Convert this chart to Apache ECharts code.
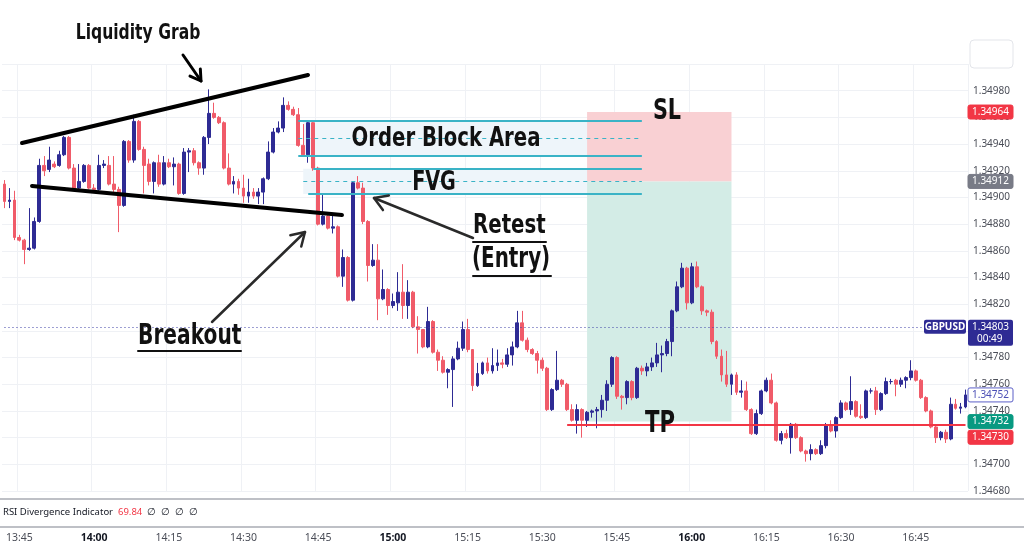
<!DOCTYPE html>
<html>
<head>
<meta charset="utf-8">
<script src="https://cdn.jsdelivr.net/npm/echarts@6/dist/echarts.min.js"></script>
<style>
  html, body { margin: 0; padding: 0; background: #fff; }
  #chart { width: 1024px; height: 559px; }
</style>
</head>
<body>
<div id="chart"></div>
<script>
// GBPUSD 1 min candles, first one at 13:42
var opens = [
  1.34910,1.34897,1.34898,1.34870,1.34868,1.34861,1.34862,1.34882,1.34924,1.34921,
  1.34925,1.34924,1.34932,1.34945,1.34922,1.34907,1.34912,1.34924,1.34907,1.34906,
  1.34924,1.34924,1.34910,1.34906,1.34894,1.34942,1.34928,1.34957,1.34936,1.34925,
  1.34912,1.34926,1.34910,1.34926,1.34923,1.34925,1.34903,1.34934,1.34935,1.34926,
  1.34922,1.34945,1.34963,1.34960,1.34956,1.34922,1.34910,1.34912,1.34907,1.34901,
  1.34904,1.34901,1.34904,1.34914,1.34934,1.34949,1.34952,1.34969,1.34966,1.34962,
  1.34939,1.34932,1.34956,1.34922,1.34880,1.34886,1.34877,1.34878,1.34841,1.34855,
  1.34823,1.34911,1.34907,1.34882,1.34849,1.34853,1.34824,1.34831,1.34819,1.34821,
  1.34829,1.34819,1.34829,1.34803,1.34801,1.34788,1.34807,1.34784,1.34778,1.34769,
  1.34771,1.34779,1.34787,1.34801,1.34786,1.34759,1.34768,1.34776,1.34770,1.34774,
  1.34776,1.34775,1.34782,1.34788,1.34806,1.34793,1.34786,1.34783,1.34778,1.34772,
  1.34741,1.34756,1.34763,1.34760,1.34741,1.34733,1.34741,1.34733,1.34739,1.34740,
  1.34741,1.34748,1.34760,1.34780,1.34751,1.34750,1.34762,1.34750,1.34772,1.34770,
  1.34773,1.34776,1.34782,1.34783,1.34792,1.34815,1.34833,1.34847,1.34821,1.34848,
  1.34833,1.34815,1.34814,1.34792,1.34781,1.34767,1.34760,1.34767,1.34754,1.34755,
  1.34741,1.34723,1.34738,1.34755,1.34763,1.34746,1.34718,1.34723,1.34720,1.34730,
  1.34720,1.34710,1.34708,1.34711,1.34708,1.34714,1.34729,1.34725,1.34735,1.34746,
  1.34741,1.34747,1.34736,1.34735,1.34755,1.34755,1.34741,1.34753,1.34762,1.34763,
  1.34760,1.34763,1.34765,1.34770,1.34763,1.34750,1.34740,1.34728,1.34720,1.34724,
  1.34719,1.34745,1.34742,1.34743
];
var closes = [
  1.34897,1.34898,1.34870,1.34868,1.34861,1.34862,1.34882,1.34924,1.34920,1.34928,
  1.34923,1.34932,1.34945,1.34922,1.34907,1.34912,1.34924,1.34907,1.34906,1.34924,
  1.34925,1.34910,1.34906,1.34894,1.34942,1.34928,1.34957,1.34936,1.34924,1.34912,
  1.34926,1.34910,1.34926,1.34923,1.34925,1.34903,1.34934,1.34935,1.34926,1.34922,
  1.34945,1.34963,1.34960,1.34956,1.34922,1.34910,1.34912,1.34907,1.34901,1.34904,
  1.34901,1.34904,1.34914,1.34934,1.34949,1.34952,1.34969,1.34966,1.34962,1.34939,
  1.34932,1.34956,1.34922,1.34880,1.34886,1.34877,1.34878,1.34841,1.34855,1.34823,
  1.34911,1.34907,1.34882,1.34849,1.34853,1.34824,1.34831,1.34819,1.34822,1.34829,
  1.34819,1.34829,1.34803,1.34801,1.34788,1.34807,1.34784,1.34778,1.34769,1.34771,
  1.34779,1.34787,1.34801,1.34786,1.34759,1.34768,1.34776,1.34770,1.34774,1.34776,
  1.34775,1.34782,1.34788,1.34806,1.34793,1.34786,1.34783,1.34778,1.34772,1.34741,
  1.34756,1.34763,1.34760,1.34741,1.34733,1.34741,1.34733,1.34739,1.34740,1.34741,
  1.34748,1.34760,1.34780,1.34751,1.34750,1.34762,1.34750,1.34772,1.34770,1.34773,
  1.34776,1.34782,1.34783,1.34792,1.34815,1.34833,1.34847,1.34821,1.34848,1.34833,
  1.34815,1.34814,1.34792,1.34781,1.34767,1.34760,1.34767,1.34754,1.34755,1.34741,
  1.34723,1.34738,1.34755,1.34763,1.34746,1.34718,1.34723,1.34720,1.34730,1.34720,
  1.34710,1.34708,1.34711,1.34708,1.34714,1.34729,1.34725,1.34735,1.34746,1.34741,
  1.34747,1.34736,1.34735,1.34755,1.34755,1.34741,1.34753,1.34762,1.34762,1.34760,
  1.34763,1.34765,1.34770,1.34763,1.34750,1.34740,1.34728,1.34720,1.34724,1.34719,
  1.34745,1.34742,1.34743,1.34752
];
var lows = [
  1.34892,1.34892,1.34868,1.34867,1.34850,1.34860,1.34861,1.34881,1.34916,1.34919,
  1.34922,1.34923,1.34931,1.34921,1.34906,1.34906,1.34911,1.34906,1.34904,1.34905,
  1.34922,1.34909,1.34904,1.34874,1.34893,1.34926,1.34926,1.34935,1.34903,1.34909,
  1.34903,1.34908,1.34909,1.34922,1.34909,1.34902,1.34902,1.34919,1.34924,1.34917,
  1.34917,1.34940,1.34959,1.34955,1.34921,1.34909,1.34903,1.34902,1.34896,1.34896,
  1.34899,1.34895,1.34895,1.34913,1.34933,1.34948,1.34949,1.34965,1.34961,1.34938,
  1.34931,1.34926,1.34920,1.34879,1.34879,1.34876,1.34873,1.34840,1.34833,1.34822,
  1.34822,1.34906,1.34880,1.34837,1.34848,1.34808,1.34823,1.34812,1.34817,1.34815,
  1.34809,1.34809,1.34802,1.34783,1.34787,1.34787,1.34783,1.34770,1.34768,1.34757,
  1.34743,1.34778,1.34785,1.34784,1.34755,1.34758,1.34767,1.34768,1.34768,1.34770,
  1.34772,1.34773,1.34774,1.34787,1.34792,1.34784,1.34782,1.34768,1.34770,1.34740,
  1.34740,1.34755,1.34758,1.34740,1.34732,1.34723,1.34720,1.34728,1.34735,1.34727,
  1.34735,1.34740,1.34758,1.34749,1.34741,1.34745,1.34748,1.34749,1.34767,1.34766,
  1.34770,1.34773,1.34769,1.34781,1.34781,1.34814,1.34832,1.34816,1.34820,1.34832,
  1.34812,1.34811,1.34790,1.34779,1.34762,1.34758,1.34752,1.34752,1.34750,1.34740,
  1.34722,1.34722,1.34737,1.34754,1.34745,1.34717,1.34715,1.34719,1.34708,1.34719,
  1.34709,1.34702,1.34703,1.34707,1.34707,1.34712,1.34724,1.34720,1.34734,1.34740,
  1.34737,1.34735,1.34734,1.34734,1.34753,1.34737,1.34740,1.34752,1.34760,1.34751,
  1.34758,1.34757,1.34763,1.34762,1.34749,1.34739,1.34727,1.34716,1.34718,1.34716,
  1.34718,1.34741,1.34738,1.34742
];
var highs = [
  1.34913,1.34907,1.34905,1.34872,1.34869,1.34892,1.34885,1.34929,1.34931,1.34938,
  1.34927,1.34935,1.34946,1.34946,1.34925,1.34925,1.34925,1.34925,1.34910,1.34932,
  1.34928,1.34931,1.34931,1.34908,1.34943,1.34943,1.34962,1.34958,1.34938,1.34929,
  1.34927,1.34932,1.34931,1.34929,1.34930,1.34926,1.34937,1.34937,1.34937,1.34927,
  1.34946,1.34981,1.34971,1.34961,1.34957,1.34933,1.34916,1.34914,1.34917,1.34914,
  1.34907,1.34907,1.34915,1.34942,1.34952,1.34957,1.34975,1.34972,1.34968,1.34967,
  1.34955,1.34958,1.34957,1.34923,1.34903,1.34887,1.34887,1.34879,1.34861,1.34856,
  1.34912,1.34916,1.34911,1.34883,1.34865,1.34865,1.34846,1.34832,1.34828,1.34844,
  1.34850,1.34838,1.34830,1.34811,1.34801,1.34818,1.34808,1.34786,1.34781,1.34772,
  1.34781,1.34792,1.34807,1.34809,1.34786,1.34776,1.34777,1.34780,1.34787,1.34786,
  1.34779,1.34787,1.34792,1.34815,1.34815,1.34795,1.34787,1.34785,1.34780,1.34773,
  1.34757,1.34785,1.34764,1.34761,1.34745,1.34745,1.34742,1.34740,1.34741,1.34743,
  1.34752,1.34763,1.34781,1.34781,1.34752,1.34763,1.34763,1.34773,1.34774,1.34776,
  1.34780,1.34791,1.34789,1.34794,1.34816,1.34837,1.34851,1.34848,1.34851,1.34852,
  1.34834,1.34816,1.34816,1.34793,1.34786,1.34785,1.34768,1.34769,1.34763,1.34762,
  1.34742,1.34741,1.34756,1.34765,1.34768,1.34747,1.34725,1.34726,1.34731,1.34731,
  1.34721,1.34711,1.34715,1.34712,1.34718,1.34731,1.34733,1.34736,1.34748,1.34747,
  1.34766,1.34748,1.34745,1.34756,1.34757,1.34758,1.34754,1.34765,1.34764,1.34764,
  1.34765,1.34766,1.34778,1.34771,1.34764,1.34751,1.34741,1.34729,1.34725,1.34726,
  1.34750,1.34749,1.34746,1.34756
];

// levels drawn on the chart
var slPrice = 1.34964;
var entryPrice = 1.34912;
var tpPrice = 1.34732;
var tpLinePrice = 1.34730;
var lastPrice = 1.34752;
var symbolPrice = 1.34803;
var obLevels = [1.349577, 1.349445, 1.349315];   // top, mid (dashed), bottom
var fvgLevels = [1.349215, 1.349125, 1.349025];
var tradeFrom = '15:39', tradeTo = '16:08';
var zoneFrom = '14:42', zoneTo = '15:50';
var tpLineFrom = '15:35';

var times = [];
for (var m = 13 * 60 + 42; times.length < opens.length; m++) {
  times.push(Math.floor(m / 60) + ':' + String(m % 60).padStart(2, '0'));
}
var candles = opens.map(function (o, i) { return [o, closes[i], lows[i], highs[i]]; });

var UP = '#2e2b94';
var DOWN = '#f05b69';
var CYAN = '#3ab3c6';
var AX_FONT = "'Noto Sans', sans-serif";
var BIG_FONT = "'DejaVu Sans', sans-serif";

function quarter(idx, val) {
  var mm = val.split(':')[1];
  return mm === '00' || mm === '15' || mm === '30' || mm === '45';
}

function hLine(y, from, to, dashed) {
  return [
    { coord: [from, y], lineStyle: { color: CYAN, width: dashed ? 1 : 2, type: dashed ? [4, 4] : 'solid' } },
    { coord: [to, y] }
  ];
}

var chart = echarts.init(document.getElementById('chart'));

var option = {
  animation: false,
  backgroundColor: '#fff',
  grid: { left: 2, right: 56, top: 64, bottom: 68 },
  xAxis: {
    type: 'category',
    data: times,
    boundaryGap: true,
    axisLine: { show: false },
    axisTick: { show: false },
    axisLabel: {
      interval: quarter,
      margin: 42,
      fontFamily: AX_FONT,
      fontSize: 10.5,
      color: '#4a4d57',
      formatter: function (v) {
        return v.split(':')[1] === '00' ? '{b|' + v + '}' : v;
      },
      rich: { b: { fontFamily: AX_FONT, fontSize: 10.5, fontWeight: 'bold', color: '#131722' } }
    },
    splitLine: { show: true, interval: quarter, lineStyle: { color: '#eff1f5', width: 1 } }
  },
  yAxis: {
    type: 'value',
    position: 'right',
    min: 1.3468,
    max: 1.35,
    interval: 0.0002,
    axisLine: { show: false },
    axisTick: { show: false },
    axisLabel: {
      showMaxLabel: false,
      margin: 5,
      fontFamily: AX_FONT,
      fontSize: 10,
      color: '#4a4d57',
      formatter: function (v) { return v.toFixed(5); }
    },
    splitLine: { lineStyle: { color: '#eff1f5', width: 1 } }
  },
  series: [
    {
      // background zones: order block, fvg, SL / TP boxes
      type: 'line',
      data: [],
      z: 1,
      silent: true,
      markArea: {
        silent: true,
        data: [
          [{ coord: [zoneFrom, obLevels[2]], itemStyle: { color: '#eef5fa' } }, { coord: [zoneTo, obLevels[0]] }],
          [{ coord: [zoneFrom, fvgLevels[2]], itemStyle: { color: '#eef5fa' } }, { coord: [zoneTo, fvgLevels[0]] }],
          [{ coord: [tradeFrom, entryPrice], itemStyle: { color: '#f9d0d3' } }, { coord: [tradeTo, slPrice] }],
          [{ coord: [tradeFrom, tpPrice], itemStyle: { color: '#d3ece6' } }, { coord: [tradeTo, entryPrice] }]
        ]
      },
      markLine: {
        silent: true,
        symbol: 'none',
        label: { show: false },
        data: [
          hLine(obLevels[0], '14:41', zoneTo, false),
          hLine(obLevels[1], '14:41', zoneTo, true),
          hLine(obLevels[2], '14:41', zoneTo, false),
          hLine(fvgLevels[0], '14:44', zoneTo, false),
          hLine(fvgLevels[1], '14:42', zoneTo, true),
          hLine(fvgLevels[2], '14:43', zoneTo, false)
        ]
      }
    },
    {
      name: 'GBPUSD',
      type: 'candlestick',
      data: candles,
      z: 3,
      barWidth: '68%',
      itemStyle: { color: UP, color0: DOWN, borderColor: UP, borderColor0: DOWN, borderWidth: 1 },
      markLine: {
        silent: true,
        symbol: 'none',
        label: { show: false },
        data: [
          [
            { coord: [times[0], symbolPrice], lineStyle: { color: '#3c3fa6', type: [1, 3], width: 1 } },
            { coord: [times[times.length - 1], symbolPrice] }
          ],
          [
            { coord: [tpLineFrom, tpLinePrice], lineStyle: { color: '#f23645', type: 'solid', width: 2 } },
            { coord: [times[times.length - 1], tpLinePrice] }
          ]
        ]
      }
    }
  ]
};
chart.setOption(option);

// annotations and price tags
function arrow(x1, y1, x2, y2, color, w, head) {
  var a = Math.atan2(y2 - y1, x2 - x1);
  var p1 = [x2 - head * Math.cos(a - 0.55), y2 - head * Math.sin(a - 0.55)];
  var p2 = [x2 - head * Math.cos(a + 0.55), y2 - head * Math.sin(a + 0.55)];
  return [
    { type: 'line', z: 20, shape: { x1: x1, y1: y1, x2: x2, y2: y2 }, style: { stroke: color, lineWidth: w, lineCap: 'round' } },
    { type: 'polyline', z: 20, shape: { points: [p1, [x2, y2], p2] }, style: { stroke: color, lineWidth: w, fill: null, lineCap: 'round', lineJoin: 'round' } }
  ];
}
// bold labels, stretched upward like the condensed font of the picture
function bigText(t, x, y, size, align) {
  return {
    type: 'text', z: 20,
    originX: x, originY: y, scaleY: 1.38,
    style: { text: t, x: x, y: y, fontFamily: BIG_FONT, fontSize: size, fontWeight: 'bold', fill: '#111', textAlign: align || 'center', textVerticalAlign: 'middle' }
  };
}
function seg(x1, y1, x2, y2, color, w) {
  return { type: 'line', z: 20, shape: { x1: x1, y1: y1, x2: x2, y2: y2 }, style: { stroke: color, lineWidth: w, lineCap: 'round' } };
}
function tag(price, bg, fg, border) {
  var y = chart.convertToPixel({ yAxisIndex: 0 }, price);
  return tagAt(y, price.toFixed(5), bg, fg, border);
}
function tagAt(y, text, bg, fg, border) {
  return [
    { type: 'rect', z: 30, shape: { x: 968, y: y - 7, width: 45, height: 14, r: 2 }, style: { fill: bg, stroke: border || bg, lineWidth: 1 } },
    { type: 'text', z: 31, style: { text: text, x: 990.5, y: y, fontFamily: AX_FONT, fontSize: 10, fill: fg, textAlign: 'center', textVerticalAlign: 'middle' } }
  ];
}

var symY = chart.convertToPixel({ yAxisIndex: 0 }, symbolPrice);
var tpY = chart.convertToPixel({ yAxisIndex: 0 }, tpLinePrice);

var graphics = [
  // pane separators
  seg(0, 499, 1024, 499, '#a8abb3', 1.5),
  seg(0, 527, 1024, 527, '#a8abb3', 1.5),
  { type: 'rect', z: 5, shape: { x: 970, y: 40, width: 43, height: 28, r: 4 }, style: { fill: '#fff', stroke: '#e3e5ea', lineWidth: 1 } },
  // trend lines
  seg(22, 143, 308, 75, '#000', 4),
  seg(32, 186, 342, 215, '#000', 4),
  bigText('Liquidity Grab', 138, 33, 15.6),
  bigText('Order Block Area', 446, 139, 19.7),
  bigText('FVG', 434, 183, 19.2),
  bigText('SL', 667, 112, 20.8),
  bigText('TP', 660, 424, 21.2),
  bigText('Retest', 473, 226, 19.8, 'left'),
  bigText('(Entry)', 472, 260, 19.9, 'left'),
  bigText('Breakout', 138, 337, 20.2, 'left'),
  seg(473, 242, 546, 242, '#111', 2),
  seg(473, 276, 551, 276, '#111', 2),
  seg(138, 351, 241, 351, '#111', 2),
  // rsi pane title
  { type: 'text', z: 20, style: { text: 'RSI Divergence Indicator', x: 3, y: 512, fontFamily: AX_FONT, fontSize: 9.5, fill: '#131722', textVerticalAlign: 'middle' } },
  { type: 'text', z: 20, style: { text: '69.84', x: 118, y: 512, fontFamily: AX_FONT, fontSize: 9.5, fill: '#f23645', textVerticalAlign: 'middle' } },
  { type: 'text', z: 20, style: { text: '\u2205  \u2205  \u2205  \u2205', x: 147, y: 512, fontFamily: AX_FONT, fontSize: 9.5, fill: '#131722', textVerticalAlign: 'middle' } },
  // symbol tag
  { type: 'rect', z: 30, shape: { x: 924, y: symY - 7, width: 42, height: 14, r: 2 }, style: { fill: '#2e2b94' } },
  { type: 'text', z: 31, style: { text: 'GBPUSD', x: 945, y: symY, fontFamily: AX_FONT, fontSize: 10, fontWeight: 'bold', fill: '#fff', textAlign: 'center', textVerticalAlign: 'middle' } },
  { type: 'rect', z: 30, shape: { x: 968, y: symY - 7, width: 45, height: 26, r: 2 }, style: { fill: '#2e2b94' } },
  { type: 'text', z: 31, style: { text: symbolPrice.toFixed(5), x: 990.5, y: symY, fontFamily: AX_FONT, fontSize: 10, fill: '#fff', textAlign: 'center', textVerticalAlign: 'middle' } },
  { type: 'text', z: 31, style: { text: '00:49', x: 977, y: symY + 12, fontFamily: AX_FONT, fontSize: 10, fill: '#fff', textVerticalAlign: 'middle' } }
];
graphics = graphics
  .concat(tag(slPrice, '#f23645', '#fff'))
  .concat(tag(entryPrice, '#787b86', '#fff'))
  .concat(tag(lastPrice, '#fff', '#4b4fb5', '#5b5fc7'))
  .concat(tag(tpPrice, '#089981', '#fff'))
  .concat(tagAt(tpY + 13, tpLinePrice.toFixed(5), '#f23645', '#fff'))
  .concat(arrow(183, 55, 201, 81, '#000', 3, 12))
  .concat(arrow(212, 322, 305, 232, '#2a2a2a', 2.5, 15))
  .concat(arrow(473, 238, 374, 198, '#2a2a2a', 2.5, 15));

chart.setOption({ graphic: graphics });
</script>
</body>
</html>
